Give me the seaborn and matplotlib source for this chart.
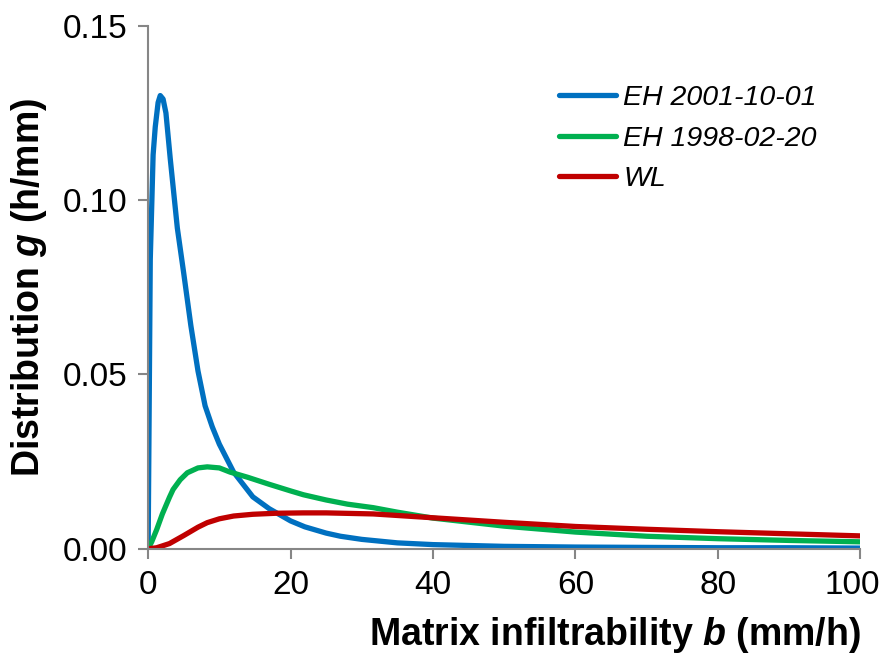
import numpy as np
import pandas as pd
import seaborn as sns
import matplotlib.pyplot as plt
import matplotlib.transforms as mtransforms
from matplotlib.ticker import FormatStrFormatter

# values
eh2001_b = [0, 0.3, 0.7, 1.0, 1.4, 1.7, 2.1, 2.5, 3.1, 4.1, 5, 6, 7, 8, 9, 10, 12, 14.7, 17, 20,
            22, 25, 27, 30, 35, 40, 50, 60, 70, 80, 90, 100]
eh2001_g = [0, 0.083, 0.113, 0.121, 0.128, 0.130, 0.129, 0.125, 0.112, 0.092, 0.079, 0.064, 0.051,
            0.041, 0.035, 0.030, 0.022, 0.0149, 0.0115, 0.008, 0.0063, 0.0045, 0.0036, 0.0027,
            0.0017, 0.0012, 0.0007, 0.0005, 0.0004, 0.0003, 0.0003, 0.0002]

eh1998_b = [0, 0.5, 1.2, 2, 3, 3.5, 4.5, 5.5, 7, 8.3, 10, 11.5, 14, 17, 20, 21.8, 25, 28, 31.6,
            35, 40, 50, 60, 70, 80, 90, 100]
eh1998_g = [0, 0.002, 0.0055, 0.010, 0.0148, 0.017, 0.0198, 0.0218, 0.0232, 0.0235, 0.0232,
            0.022, 0.0205, 0.0185, 0.0166, 0.0155, 0.0140, 0.0128, 0.0118, 0.0105, 0.0088,
            0.0065, 0.0048, 0.0036, 0.0029, 0.0024, 0.0020]

wl_b = [0, 1.2, 3, 5, 7, 8.3, 10, 12, 14.7, 18, 21.8, 25, 31.6, 40, 50, 60, 70, 80, 90, 100]
wl_g = [0, 0.0003, 0.0015, 0.0038, 0.0062, 0.0075, 0.0086, 0.0094, 0.0099, 0.0102, 0.0103,
        0.0103, 0.0100, 0.0089, 0.0076, 0.0064, 0.0056, 0.0049, 0.0043, 0.0037]

series = ["EH 2001-10-01", "EH 1998-02-20", "WL"]
colors = ["#0070C0", "#00B050", "#C00000"]

df = pd.concat([
    pd.DataFrame({"b": eh2001_b, "g": eh2001_g, "series": series[0]}),
    pd.DataFrame({"b": eh1998_b, "g": eh1998_g, "series": series[1]}),
    pd.DataFrame({"b": wl_b, "g": wl_g, "series": series[2]}),
])

sns.set_style("ticks")
plt.rcParams['font.family'] = ['Liberation Sans', 'DejaVu Sans']
plt.rcParams['text.color'] = 'black'
plt.rcParams['axes.labelcolor'] = 'black'
plt.rcParams['mathtext.fontset'] = 'custom'
plt.rcParams['mathtext.rm'] = 'Liberation Sans'
plt.rcParams['mathtext.it'] = 'Liberation Sans:italic'
plt.rcParams['mathtext.bf'] = 'Liberation Sans:bold'
plt.rcParams['mathtext.bfit'] = 'Liberation Sans:bold:italic'

fig, ax = plt.subplots(figsize=(8.87, 6.62), dpi=100)
fig.subplots_adjust(left=0.167, right=0.970, bottom=0.171, top=0.961)

sns.lineplot(data=df, x="b", y="g", hue="series", palette=colors, hue_order=series,
             linewidth=3.8, sort=False, ax=ax, solid_capstyle='round', solid_joinstyle='round')

ax.set_xlim(0, 100)
ax.set_ylim(0, 0.15)
ax.set_xticks([0, 20, 40, 60, 80, 100])
ax.set_yticks([0, 0.05, 0.10, 0.15])
ax.yaxis.set_major_formatter(FormatStrFormatter('%.2f'))

ax.set_xlabel(r'Matrix infiltrability $\mathbfit{b}$ (mm/h)', fontsize=27, fontweight='bold',
              loc='right', labelpad=10, color='black')
ax.set_ylabel(r'Distribution $\mathbfit{g}$ (h/mm)', fontsize=27, fontweight='bold',
              labelpad=10, color='black')

sns.despine(ax=ax)
for s in ['left', 'bottom']:
    ax.spines[s].set_color('#868686')
    ax.spines[s].set_linewidth(1.5)
ax.tick_params(axis='both', direction='out', length=7, width=1.5, color='#868686',
               labelsize=24, labelcolor='black', pad=8)

# last x label sits a little to the left so it stays inside the figure
fig.canvas.draw()
last = ax.get_xticklabels()[-1]
last.set_transform(last.get_transform() +
                   mtransforms.ScaledTranslation(-8 / 100, 0, fig.dpi_scale_trans))

handles, labels = ax.get_legend_handles_labels()
ax.legend(handles, labels, frameon=False, loc='upper right', bbox_to_anchor=(0.975, 0.935),
          prop={'style': 'italic', 'size': 20.5}, handlelength=2.0, handletextpad=0.25,
          labelspacing=0.5, labelcolor='black')

plt.savefig("out.png", dpi=100)
